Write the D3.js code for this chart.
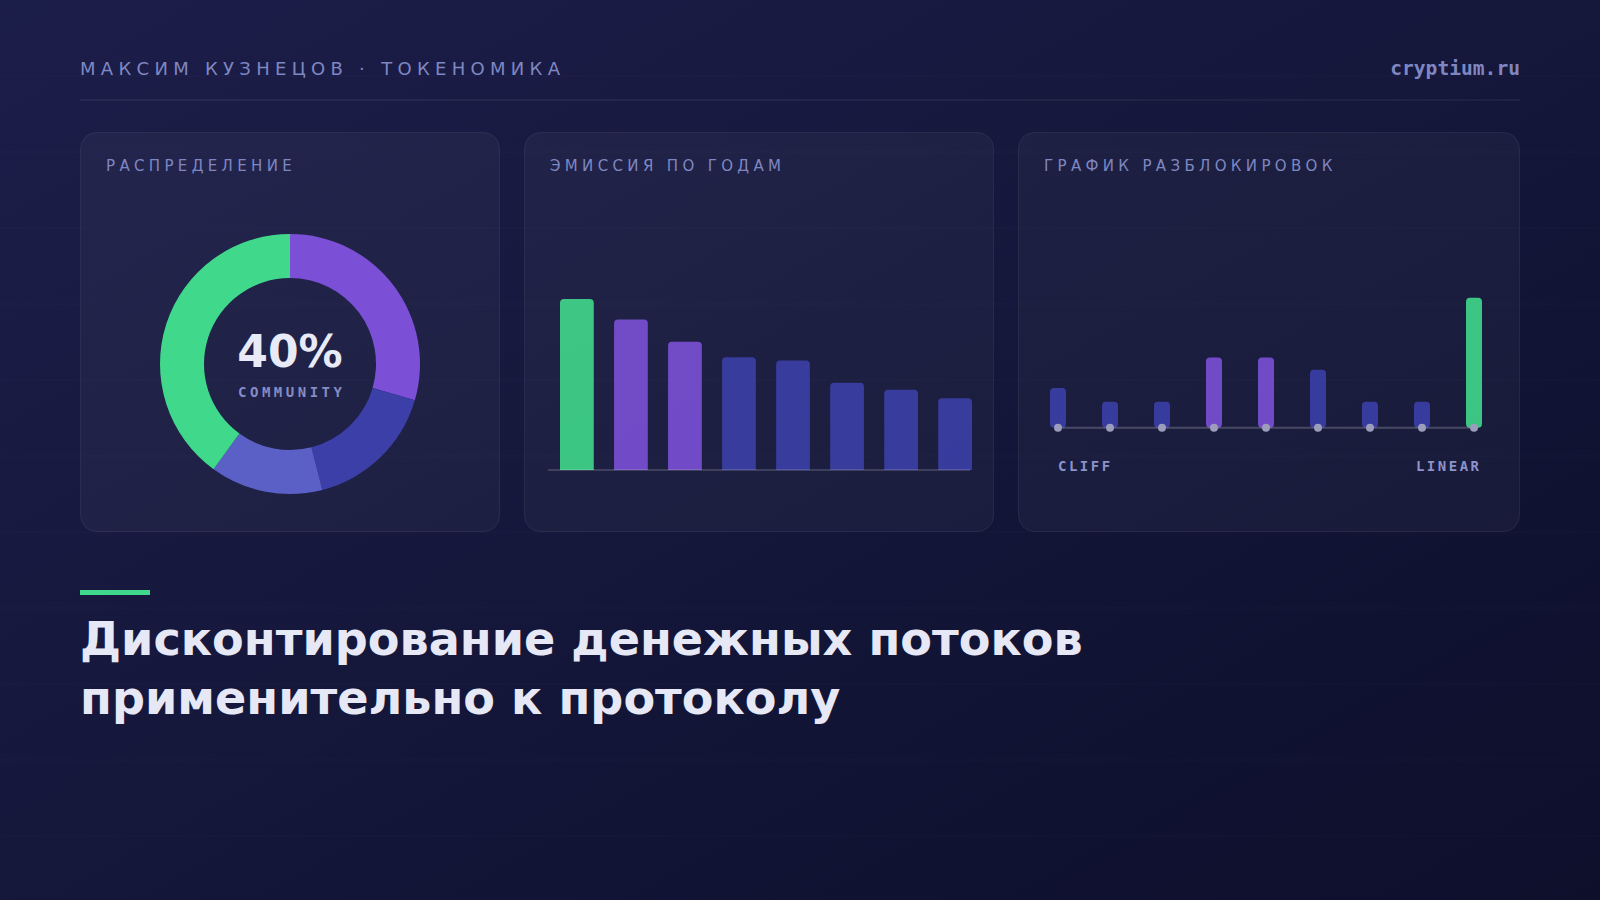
<!DOCTYPE html>
<html><head><meta charset="utf-8">
<script src="https://cdn.jsdelivr.net/npm/d3@7"></script>
<style>
html,body{margin:0;padding:0;background:#15173a;}
svg{display:block;}
</style></head>
<body>
<svg id="chart" width="1600" height="900"></svg>
<script>
// ---- data ----
const headerLeft = "МАКСИМ КУЗНЕЦОВ · ТОКЕНОМИКА";
const headerRight = "cryptium.ru";
const cardTitles = ["РАСПРЕДЕЛЕНИЕ", "ЭМИССИЯ ПО ГОДАМ", "ГРАФИК РАЗБЛОКИРОВОК"];
const titleLines = ["Дисконтирование денежных потоков", "применительно к протоколу"];

const allocCategories = ["Team", "Investors", "Treasury", "Community"];
const allocValues = [29.5, 16.5, 14, 40];
const allocColors = ["#7b50d6", "#3b3fa7", "#5b60c6", "#40d88b"];
const centerValue = "40%";
const centerLabel = "COMMUNITY";

const emissionYears = ["Y1", "Y2", "Y3", "Y4", "Y5", "Y6", "Y7", "Y8"];
const emissionValues = [100, 88, 75, 66, 64, 51, 47, 42];
const emissionColors = ["#40d88b", "#7b50d6", "#7b50d6", "#3b3fa7", "#3b3fa7", "#3b3fa7", "#3b3fa7", "#3b3fa7"];

const unlockPeriods = ["P1", "P2", "P3", "P4", "P5", "P6", "P7", "P8", "P9"];
const unlockValues = [30.5, 20, 20, 54, 54, 44.5, 20, 20, 100];
const unlockColors = ["#3b3fa7", "#3b3fa7", "#3b3fa7", "#7b50d6", "#7b50d6", "#3b3fa7", "#3b3fa7", "#3b3fa7", "#40d88b"];
const unlockLabels = ["CLIFF", "LINEAR"];

// ---- layout ----
const svg = d3.select("#chart");
const defs = svg.append("defs");
const bg = defs.append("linearGradient").attr("id", "bg").attr("x1", "0").attr("y1", "0").attr("x2", "1").attr("y2", "1");
bg.append("stop").attr("offset", "0%").attr("stop-color", "#1c1e4a");
bg.append("stop").attr("offset", "100%").attr("stop-color", "#0d0f2b");
svg.append("rect").attr("width", 1600).attr("height", 900).attr("fill", "url(#bg)");

// faint horizontal rules
svg.append("g").selectAll("line").data(d3.range(76, 900, 76)).join("line")
  .attr("x1", 0).attr("x2", 1600).attr("y1", d => d).attr("y2", d => d)
  .attr("stroke", "rgba(255,255,255,0.025)").attr("stroke-width", 1);

// header
svg.append("text").text(headerLeft).attr("x", 80).attr("y", 75)
  .attr("font-family", "DejaVu Sans").attr("font-size", 18).attr("letter-spacing", "5.3px")
  .attr("fill", "#7f87c2");
svg.append("text").text(headerRight).attr("x", 1520).attr("y", 75).attr("text-anchor", "end")
  .attr("font-family", "DejaVu Sans Mono").attr("font-weight", "bold").attr("font-size", 19.6)
  .attr("fill", "#7f87c2");
svg.append("line").attr("x1", 80).attr("x2", 1520).attr("y1", 100).attr("y2", 100)
  .attr("stroke", "rgba(255,255,255,0.07)").attr("stroke-width", 1.5);

// cards
const cards = [
  {x: 80, w: 420}, {x: 524, w: 470}, {x: 1018, w: 502}
];
const cardY = 132, cardH = 400;
cards.forEach((c, i) => {
  svg.append("rect").attr("x", c.x + 0.5).attr("y", cardY + 0.5).attr("width", c.w - 1).attr("height", cardH - 1)
    .attr("rx", 16).attr("fill", "rgba(255,255,255,0.035)").attr("stroke", "rgba(255,255,255,0.07)");
  svg.append("text").text(cardTitles[i]).attr("x", c.x + 26).attr("y", 170.5)
    .attr("font-family", "DejaVu Sans").attr("font-size", 15).attr("letter-spacing", "4.35px")
    .attr("fill", "#7f87c2");
});

// ---- donut ----
const cx = 290, cy = 364;
const pie = d3.pie().sort(null).value(d => d)(allocValues);
const arc = d3.arc().innerRadius(86).outerRadius(130);
svg.append("g").attr("transform", `translate(${cx},${cy})`).selectAll("path").data(pie).join("path")
  .attr("d", arc).attr("fill", (d, i) => allocColors[i]);
svg.append("text").text(centerValue).attr("x", cx).attr("y", 367).attr("text-anchor", "middle")
  .attr("font-family", "DejaVu Sans").attr("font-weight", "bold").attr("font-size", 44).attr("fill", "#e8eaf8");
svg.append("text").text(centerLabel).attr("x", cx + 1.75).attr("y", 397).attr("text-anchor", "middle")
  .attr("font-family", "DejaVu Sans Mono").attr("font-weight", "bold").attr("font-size", 14).attr("letter-spacing", "3.5px")
  .attr("fill", "#868cc4");

// ---- emission bars ----
const ex = d3.scaleBand().domain(emissionYears).range([560, 972]).paddingInner(0.375).paddingOuter(0);
const ey = d3.scaleLinear().domain([0, 100]).range([470, 299]);
svg.append("g").selectAll("path").data(emissionValues).join("path")
  .attr("d", (d, i) => {
    const x0 = ex(emissionYears[i]), w = ex.bandwidth(), y0 = ey(d), y1 = ey(0), r = 4;
    return `M${x0},${y1} V${y0 + r} Q${x0},${y0} ${x0 + r},${y0} H${x0 + w - r} Q${x0 + w},${y0} ${x0 + w},${y0 + r} V${y1} Z`;
  })
  .attr("fill", (d, i) => emissionColors[i]).attr("opacity", 0.9);
svg.append("line").attr("x1", 548).attr("x2", 970).attr("y1", ey(0)).attr("y2", ey(0))
  .attr("stroke", "rgba(255,255,255,0.15)").attr("stroke-width", 2);

// ---- unlock schedule ----
const ux = d3.scalePoint().domain(unlockPeriods).range([1058, 1474]);
const uy = d3.scaleLinear().domain([0, 100]).range([427.7, 297.7]);
const bw = 16;
svg.append("g").selectAll("rect").data(unlockValues).join("rect")
  .attr("x", (d, i) => ux(unlockPeriods[i]) - bw / 2).attr("y", d => uy(d))
  .attr("width", bw).attr("height", d => uy(0) - uy(d)).attr("rx", 4)
  .attr("fill", (d, i) => unlockColors[i]).attr("opacity", 0.9);
svg.append("line").attr("x1", ux(unlockPeriods[0])).attr("x2", ux(unlockPeriods[unlockPeriods.length - 1]))
  .attr("y1", uy(0)).attr("y2", uy(0)).attr("stroke", "rgba(255,255,255,0.2)").attr("stroke-width", 2);
svg.append("g").selectAll("circle").data(unlockPeriods).join("circle")
  .attr("cx", d => ux(d)).attr("cy", uy(0)).attr("r", 4).attr("fill", "#9c9cbc");
svg.append("text").text(unlockLabels[0]).attr("x", 1058).attr("y", 471)
  .attr("font-family", "DejaVu Sans Mono").attr("font-weight", "bold").attr("font-size", 14).attr("letter-spacing", "2.5px")
  .attr("fill", "#8c93cc");
svg.append("text").text(unlockLabels[1]).attr("x", 1481.5).attr("y", 471).attr("text-anchor", "end")
  .attr("font-family", "DejaVu Sans Mono").attr("font-weight", "bold").attr("font-size", 14).attr("letter-spacing", "2.5px")
  .attr("fill", "#8c93cc");

// ---- bottom title ----
svg.append("rect").attr("x", 80).attr("y", 590).attr("width", 70).attr("height", 5).attr("fill", "#40d88b");
svg.append("g").selectAll("text").data(titleLines).join("text")
  .text(d => d).attr("x", 80).attr("y", (d, i) => 655 + i * 59)
  .attr("font-family", "DejaVu Sans").attr("font-weight", "bold").attr("font-size", 46.15)
  .attr("fill", "#e6e8f6");
</script>
</body></html>
